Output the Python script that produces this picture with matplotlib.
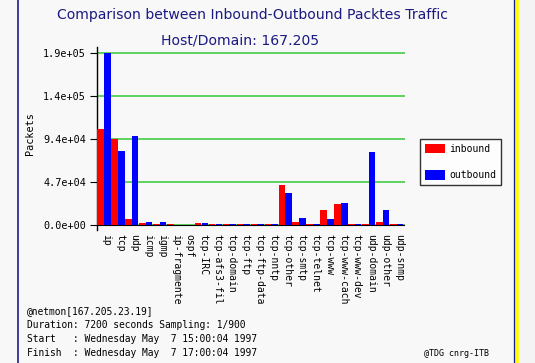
import matplotlib
matplotlib.use("Agg")
import matplotlib.pyplot as plt
import numpy as np
from matplotlib.lines import Line2D
from matplotlib.patches import Patch, Rectangle

categories = ["ip", "tcp", "udp", "icmp", "igmp", "ip-fragmente", "ospf", "tcp-IRC",
              "tcp-afs3-fil", "tcp-domain", "tcp-ftp", "tcp-ftp-data", "tcp-nntp",
              "tcp-other", "tcp-smtp", "tcp-telnet", "tcp-www", "tcp-www-cach",
              "tcp-www-dev", "udp-domain", "udp-other", "udp-snmp"]
inbound = [105000, 94300, 6500, 2300, 1000, 1000, 0, 1800, 700, 700, 700, 1500, 700,
           43700, 3600, 700, 16400, 23000, 700, 1200, 3600, 700]
outbound = [188000, 80900, 97300, 3300, 3300, 300, 0, 2600, 700, 700, 700, 1500, 700,
            35000, 7600, 700, 6500, 24000, 700, 80000, 16400, 700]
ytick_vals = [0, 47000, 94000, 141000, 188000]
ytick_labels = ["0.0e+00", "4.7e+04", "9.4e+04", "1.4e+05", "1.9e+05"]

W, H = 535, 363
bg = "#f8f8f8"
fig = plt.figure(figsize=(W / 100, H / 100), dpi=100, facecolor=bg)

def fx(px):
    return px / W

def fy(py):
    return 1 - py / H

ax = fig.add_axes([fx(97), fy(230), fx(405) - fx(97), fy(47) - fy(230)])
ax.set_facecolor(bg)
x = np.arange(len(categories))
bw = 0.47
ax.bar(x - 0.24, inbound, width=bw, color="#ff0000", zorder=3)
ax.bar(x + 0.24, outbound, width=bw, color="#0000ff", zorder=3)
ax.set_xlim(-0.5, 21.6)
ax.set_ylim(-5465, 194560)
for v in ytick_vals:
    ax.axhline(v, color="#44cc44", lw=1.2, zorder=1)
ax.axhline(0, color="black", lw=0.8, zorder=2)
for s in ["top", "right", "bottom"]:
    ax.spines[s].set_visible(False)
ax.spines["left"].set_linewidth(1.0)
ax.set_yticks(ytick_vals)
ax.set_yticklabels(ytick_labels, family="DejaVu Sans Mono", fontsize=7.3)
ax.tick_params(axis="y", length=5, width=0.8, pad=3)
ax.set_xticks(x + 0.15)
ax.set_xticklabels(categories, rotation=-90, family="DejaVu Sans Mono", fontsize=7.0,
                   va="top", ha="center")
ax.tick_params(axis="x", length=0, pad=3)
ax.set_ylabel("Packets", family="DejaVu Sans Mono", fontsize=7.3)
ax.yaxis.set_label_coords(-(97 - 35) / (405 - 97), (230 - 134) / (230 - 47))

fig.text(fx(252), fy(15), "Comparison between Inbound-Outbound Packtes Traffic",
         ha="center", va="center", color="#1a1a80", fontsize=10.1,
         family=["Liberation Sans Narrow", "DejaVu Sans"])
fig.text(fx(240), fy(40), "Host/Domain: 167.205",
         ha="center", va="center", color="#1a1a80", fontsize=10.1,
         family=["Liberation Sans Narrow", "DejaVu Sans"])

handles = [Patch(facecolor="#ff0000"), Patch(facecolor="#0000ff")]
leg = fig.legend(handles, ["inbound", "outbound"], loc="upper left",
                 bbox_to_anchor=(fx(420), fy(139)), borderaxespad=0,
                 prop={"family": "DejaVu Sans Mono", "size": 7.0},
                 frameon=True, fancybox=False, edgecolor="black", facecolor="white",
                 handlelength=2.1, handleheight=1.1, labelspacing=1.7,
                 borderpad=0.5, handletextpad=0.4)
leg.get_frame().set_linewidth(1.0)

info = ["@netmon[167.205.23.19]",
        "Duration: 7200 seconds Sampling: 1/900",
        "Start   : Wednesday May  7 15:00:04 1997",
        "Finish  : Wednesday May  7 17:00:04 1997"]
for i, line in enumerate(info):
    fig.text(fx(27), fy(311 + 14 * i), line, ha="left", va="center",
             family="DejaVu Sans Mono", fontsize=6.9, color="black")
fig.text(fx(489), fy(353), "@TDG cnrg-ITB", ha="right", va="center",
         family="DejaVu Sans Mono", fontsize=6.0, color="black")

# frame decorations
fig.add_artist(Line2D([fx(17.5), fx(17.5)], [0, 1], color="#1c1c8c", lw=1.2))
fig.add_artist(Line2D([fx(513.5), fx(513.5)], [0, 1], color="#1c1c8c", lw=0.9))
fig.add_artist(Rectangle((fx(514), 0), fx(5), 1, color="#ffff00", transform=fig.transFigure))
fig.add_artist(Rectangle((fx(519), 0), fx(16), 1, color="#f4f4f4", transform=fig.transFigure))

fig.savefig("out.png", dpi=100, facecolor=bg)
